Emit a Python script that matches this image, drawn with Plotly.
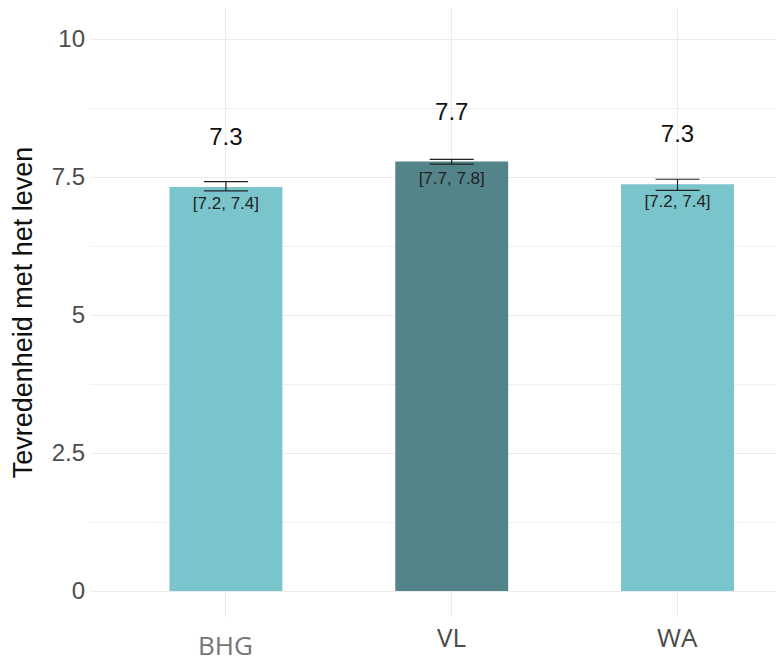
import plotly.graph_objects as go

categories = ["BHG", "VL", "WA"]
means = [7.32, 7.78, 7.37]
ci_low = [7.25, 7.735, 7.26]
ci_high = [7.415, 7.82, 7.46]
value_labels = ["7.3", "7.7", "7.3"]
ci_labels = ["[7.2, 7.4]", "[7.7, 7.8]", "[7.2, 7.4]"]
bar_colors = ["#7ac4cc", "#538489", "#7ac4cc"]
y_tickvals = [0, 2.5, 5, 7.5, 10]
y_ticktext = ["0", "2.5", "5", "7.5", "10"]
y_title = "Tevredenheid met het leven"

err_plus = [h - m for h, m in zip(ci_high, means)]
err_minus = [m - l for m, l in zip(means, ci_low)]

fig = go.Figure()
fig.add_trace(go.Bar(
    x=categories, y=means, width=0.5,
    marker=dict(color=bar_colors, line=dict(width=0)),
    error_y=dict(type="data", symmetric=False, array=err_plus, arrayminus=err_minus,
                 color="#222222", thickness=1.2, width=22),
    hoverinfo="skip",
))
fig.add_trace(go.Scatter(
    x=categories, y=[m + 0.87 for m in means], mode="text", text=value_labels,
    textfont=dict(family="Liberation Sans", size=24, color="#111111"),
    hoverinfo="skip",
))
fig.add_trace(go.Scatter(
    x=categories, y=[m - 0.33 for m in means], mode="text", text=ci_labels,
    textfont=dict(family="Liberation Sans", size=17, color="#222222"),
    hoverinfo="skip",
))

annotations = []
for c in categories:
    if c == "BHG":
        annotations.append(dict(x=c, xref="x", y=0, yref="paper", yanchor="middle",
                                yshift=-28, text=c, showarrow=False, height=26,
                                font=dict(family="Open Sans", size=26, color="#757575")))
    else:
        annotations.append(dict(x=c, xref="x", y=0, yref="paper", yanchor="middle",
                                yshift=-19.5, text=c, showarrow=False, height=26,
                                font=dict(family="Open Sans", size=26, color="#4a4a4a")))

fig.update_layout(
    width=784, height=661,
    margin=dict(l=82, r=0, t=0, b=52),
    paper_bgcolor="white", plot_bgcolor="white",
    showlegend=False,
    annotations=annotations,
    xaxis=dict(range=[-0.602, 2.507], showgrid=True, gridcolor="#ebebeb", gridwidth=1.2,
               showticklabels=False, zeroline=False, showline=False, ticks="",
               automargin=False),
    yaxis=dict(range=[-0.47, 10.562], tickvals=y_tickvals, ticktext=y_ticktext,
               showgrid=True, gridcolor="#ebebeb", gridwidth=1.2, zeroline=False, showline=False,
               minor=dict(tickvals=[1.25, 3.75, 6.25, 8.75], showgrid=True,
                          gridcolor="#f0f0f0", gridwidth=1),
               tickfont=dict(family="Liberation Sans", size=24, color="#4d4d4d"),
               ticklabelstandoff=4, automargin=False,
               title=dict(text=y_title, standoff=12,
                          font=dict(family="Liberation Sans", size=27, color="#111111"))),
)

fig.write_html("out.html")
